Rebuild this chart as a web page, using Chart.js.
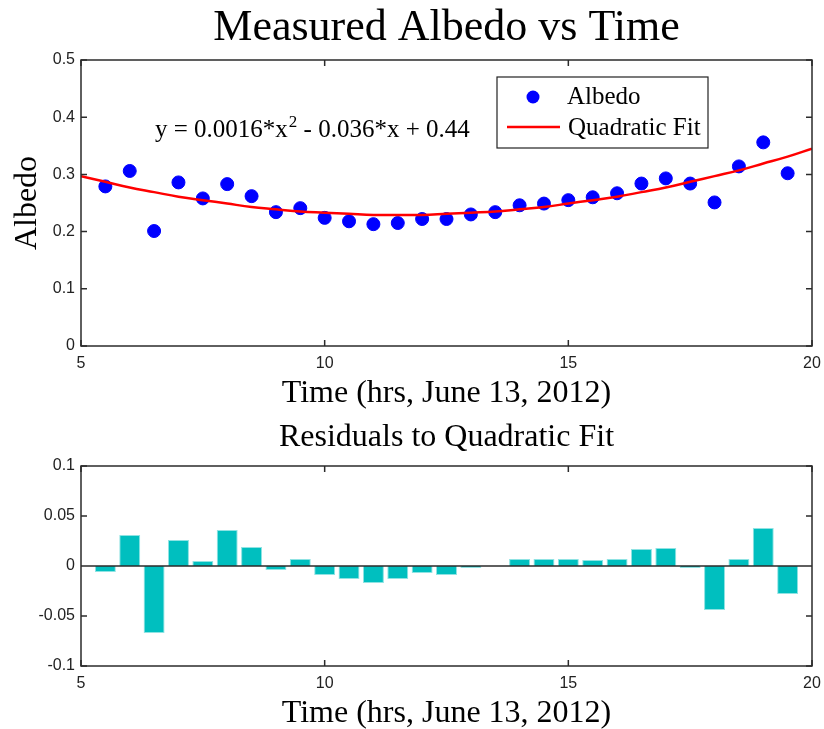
<!DOCTYPE html>
<html>
<head>
<meta charset="utf-8">
<script src="https://cdn.jsdelivr.net/npm/chart.js@4"></script>
<style>
  body { margin: 0; background: #fff; }
  .panel { position: absolute; left: 0; }
</style>
</head>
<body>
<div class="panel" style="top:0"><canvas id="albedo" width="824" height="410"></canvas></div>
<div class="panel" style="top:410px"><canvas id="residuals" width="824" height="319"></canvas></div>
<script>
// measured albedo, half-hourly
const timeHours = [5.5, 6, 6.5, 7, 7.5, 8, 8.5, 9, 9.5, 10, 10.5, 11, 11.5, 12, 12.5,
  13, 13.5, 14, 14.5, 15, 15.5, 16, 16.5, 17, 17.5, 18, 18.5, 19, 19.5];
const albedo = [0.279, 0.306, 0.201, 0.286, 0.258, 0.283, 0.262, 0.234, 0.241, 0.224, 0.218,
  0.213, 0.215, 0.222, 0.222, 0.230, 0.234, 0.246, 0.249, 0.255, 0.260, 0.267, 0.284,
  0.293, 0.284, 0.251, 0.314, 0.356, 0.302];

// quadratic fit curve
const fitHours = [5, 5.5, 6, 6.5, 7, 7.5, 8, 8.5, 9, 9.5, 10, 10.5, 11, 11.5, 12, 12.5,
  13, 13.5, 14, 14.5, 15, 15.5, 16, 16.5, 17, 17.5, 18, 18.5, 19, 19.5, 20];
const fitAlbedo = [0.297, 0.287, 0.277, 0.269, 0.261, 0.255, 0.249, 0.243, 0.239, 0.235,
  0.233, 0.231, 0.229, 0.229, 0.229, 0.231, 0.233, 0.235, 0.239, 0.243, 0.249, 0.255,
  0.261, 0.269, 0.277, 0.287, 0.297, 0.307, 0.319, 0.331, 0.345];

// residuals to the fit
const residuals = [-0.006, 0.031, -0.067, 0.026, 0.005, 0.036, 0.019, -0.004, 0.007, -0.009,
  -0.013, -0.017, -0.013, -0.007, -0.009, -0.002, 0, 0.007, 0.007, 0.007, 0.006, 0.007,
  0.017, 0.018, -0.002, -0.044, 0.007, 0.038, -0.028];

const timeTicks = [5, 10, 15, 20];
const albedoTicks = [0, 0.1, 0.2, 0.3, 0.4, 0.5];
const residualTicks = [-0.1, -0.05, 0, 0.05, 0.1];

const serif = '"Liberation Serif", "Times New Roman", serif';
const sans = '"Liberation Sans", Arial, sans-serif';
const axisColor = '#2b2b2b';

// matlab style box with inward ticks on all four sides
const matlabBox = {
  id: 'matlabBox',
  afterLayout(chart) {
    // center the title over the axes, like matlab does
    const tb = chart.titleBlock;
    if (tb) {
      tb.left = chart.chartArea.left;
      tb.right = chart.chartArea.right;
      tb.width = tb.right - tb.left;
    }
  },
  afterDatasetsDraw(chart, args, opts) {
    const {ctx, chartArea: a, scales: {x, y}} = chart;
    ctx.save();
    ctx.strokeStyle = axisColor;
    ctx.lineWidth = 1.5;
    ctx.beginPath();
    if (opts.zeroLine) {
      const y0 = y.getPixelForValue(0);
      ctx.moveTo(a.left, y0); ctx.lineTo(a.right, y0);
    }
    x.ticks.forEach(t => {
      const px = x.getPixelForValue(t.value);
      ctx.moveTo(px, a.bottom); ctx.lineTo(px, a.bottom - 6);
      ctx.moveTo(px, a.top); ctx.lineTo(px, a.top + 6);
    });
    y.ticks.forEach(t => {
      const py = y.getPixelForValue(t.value);
      ctx.moveTo(a.left, py); ctx.lineTo(a.left + 6, py);
      ctx.moveTo(a.right, py); ctx.lineTo(a.right - 6, py);
    });
    ctx.stroke();
    ctx.strokeRect(a.left, a.top, a.width, a.height);
    ctx.restore();
  }
};

// legend box + fit equation for the top panel
const albedoNotes = {
  id: 'albedoNotes',
  afterDraw(chart) {
    const ctx = chart.ctx;
    const sets = chart.data.datasets;
    const pts = sets.find(d => d.label === 'Albedo');
    const fit = sets.find(d => d.label === 'Quadratic Fit');
    ctx.save();
    // equation
    ctx.fillStyle = '#000';
    ctx.textBaseline = 'alphabetic';
    ctx.font = '25px ' + serif;
    let tx = 155;
    const part1 = 'y = 0.0016*x';
    ctx.fillText(part1, tx, 137);
    tx += ctx.measureText(part1).width;
    ctx.font = '17px ' + serif;
    ctx.fillText('2', tx + 1, 127);
    tx += ctx.measureText('2').width + 1;
    ctx.font = '25px ' + serif;
    ctx.fillText(' - 0.036*x + 0.44', tx, 137);

    // legend
    ctx.fillStyle = '#fff';
    ctx.fillRect(497, 77, 211, 71);
    ctx.strokeStyle = '#222';
    ctx.lineWidth = 1.2;
    ctx.strokeRect(497, 77, 211, 71);
    ctx.fillStyle = pts.backgroundColor;
    ctx.beginPath();
    ctx.arc(533, 97, 6.5, 0, Math.PI * 2);
    ctx.fill();
    ctx.strokeStyle = fit.borderColor;
    ctx.lineWidth = fit.borderWidth;
    ctx.beginPath();
    ctx.moveTo(507, 127); ctx.lineTo(560, 127);
    ctx.stroke();
    ctx.fillStyle = '#000';
    ctx.font = '25px ' + serif;
    ctx.fillText(pts.label, 567, 104);
    ctx.fillText(fit.label, 568, 135);
    ctx.restore();
  }
};

function fixTicks(values) {
  return scale => { scale.ticks = values.map(v => ({value: v})); };
}

// fixed axis heights, and no extra room for the overhanging end labels
function fixXHeight(h) {
  return scale => { scale.height = h; scale.paddingLeft = 0; scale.paddingRight = 0; };
}

const tickFont = { family: sans, size: 16 };

var albedoChart = new Chart(document.getElementById('albedo'), {
  type: 'scatter',
  data: {
    datasets: [{
      label: 'Quadratic Fit',
      type: 'line',
      data: fitHours.map((h, i) => ({x: h, y: fitAlbedo[i]})),
      borderColor: '#ff0000',
      borderWidth: 2.5,
      pointRadius: 0,
      tension: 0.4,
      order: 0
    }, {
      label: 'Albedo',
      data: timeHours.map((h, i) => ({x: h, y: albedo[i]})),
      backgroundColor: '#0000ff',
      borderColor: '#0000ff',
      pointRadius: 6.5,
      order: 1
    }]
  },
  options: {
    responsive: false,
    animation: false,
    layout: { padding: { left: 0, right: 12, top: 0, bottom: 0 } },
    plugins: {
      legend: { display: false },
      tooltip: { enabled: false },
      title: {
        display: true,
        text: 'Measured Albedo vs Time',
        color: '#000',
        font: { family: serif, size: 44, weight: 'normal' },
        padding: { top: 2, bottom: 5.2 }
      }
    },
    scales: {
      x: {
        type: 'linear', min: 5, max: 20,
        afterBuildTicks: fixTicks(timeTicks),
        afterFit: fixXHeight(64),
        grid: { display: false, drawTicks: false },
        border: { display: false },
        ticks: { color: '#222', font: tickFont, padding: 8, callback: v => String(v) },
        title: {
          display: true, text: 'Time (hrs, June 13, 2012)', color: '#000',
          font: { family: serif, size: 32 }, padding: { top: 0, bottom: -3 }
        }
      },
      y: {
        min: 0, max: 0.5,
        afterBuildTicks: fixTicks(albedoTicks),
        afterFit: s => { s.width = 81; },
        grid: { display: false, drawTicks: false },
        border: { display: false },
        ticks: { color: '#222', font: tickFont, padding: 6, callback: v => String(v) },
        title: {
          display: true, text: 'Albedo', color: '#000',
          font: { family: serif, size: 32 }, padding: { top: 8, bottom: 0 }
        }
      }
    }
  },
  plugins: [matlabBox, albedoNotes]
});

var residualChart = new Chart(document.getElementById('residuals'), {
  type: 'bar',
  data: {
    datasets: [{
      label: 'Residuals',
      data: timeHours.map((h, i) => ({x: h, y: residuals[i]})),
      backgroundColor: '#00bfbf',
      borderColor: '#8fe3e3',
      borderWidth: 1,
      categoryPercentage: 1,
      barPercentage: 0.86
    }]
  },
  options: {
    responsive: false,
    animation: false,
    layout: { padding: { left: 0, right: 12, top: 0, bottom: 0 } },
    plugins: {
      legend: { display: false },
      tooltip: { enabled: false },
      matlabBox: { zeroLine: true },
      title: {
        display: true,
        text: 'Residuals to Quadratic Fit',
        color: '#000',
        font: { family: serif, size: 32, weight: 'normal' },
        padding: { top: 8.8, bottom: 8.8 }
      }
    },
    scales: {
      x: {
        type: 'linear', min: 5, max: 20, offset: false,
        afterBuildTicks: fixTicks(timeTicks),
        afterFit: fixXHeight(63),
        grid: { display: false, drawTicks: false },
        border: { display: false },
        ticks: { color: '#222', font: tickFont, padding: 8, callback: v => String(v) },
        title: {
          display: true, text: 'Time (hrs, June 13, 2012)', color: '#000',
          font: { family: serif, size: 32 }, padding: { top: 0, bottom: -4 }
        }
      },
      y: {
        min: -0.1, max: 0.1,
        afterBuildTicks: fixTicks(residualTicks),
        afterFit: s => { s.width = 81; },
        grid: { display: false, drawTicks: false },
        border: { display: false },
        ticks: { color: '#222', font: tickFont, padding: 6, callback: v => String(v) }
      }
    }
  },
  plugins: [matlabBox]
});
</script>
</body>
</html>
